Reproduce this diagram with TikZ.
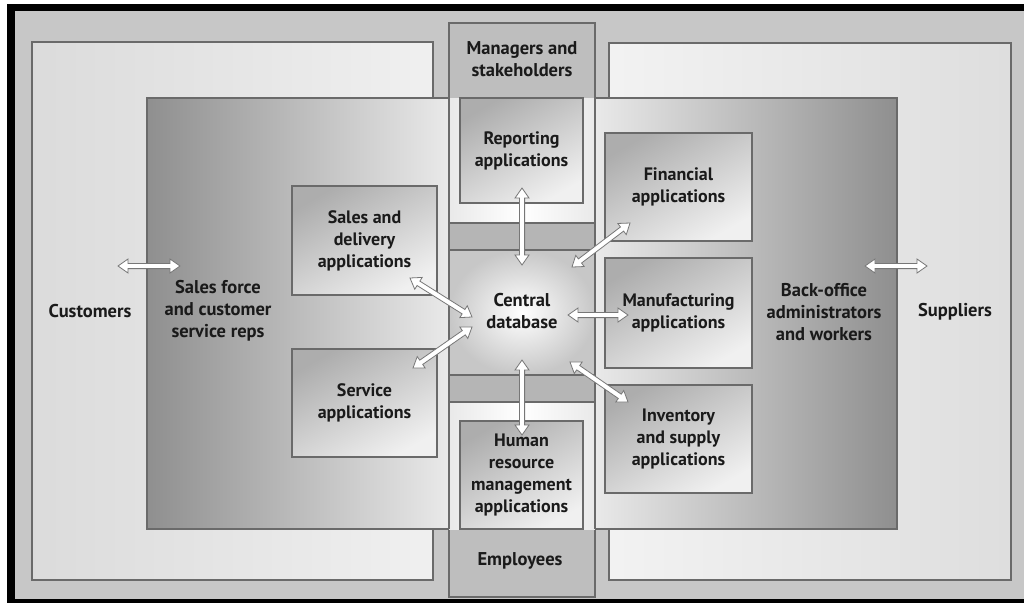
\documentclass[tikz,border=0pt]{standalone}
\usepackage{fontspec}
\setmainfont{PT Sans}
\usetikzlibrary{calc}
\definecolor{bggray}{HTML}{C7C7C7}
\definecolor{edge}{HTML}{6A6A6A}
\definecolor{colgray}{HTML}{BEBEBE}
\definecolor{bandgray}{HTML}{B5B5B5}
\definecolor{txt}{HTML}{1A1A1A}
\definecolor{arrgray}{HTML}{777777}
\tikzset{
  lbl/.style={font=\fontsize{18.5}{22}\selectfont\bfseries, text=txt, align=center, inner sep=0pt},
  edgeline/.style={draw=edge, line width=1.3pt},
  appbox/.style={draw=edge, line width=1.2pt, top color=black!32, bottom color=black!6, shading angle=30,
    font=\fontsize{18}{22}\selectfont\bfseries, text=txt, align=center, inner sep=0pt},
  dblarr/.style={draw=arrgray, fill=white, line width=0.8pt, line join=miter,
    to path={
      -- ($($(\tikztostart)!10pt!(\tikztotarget)$)!7pt!90:(\tikztotarget)$)
      -- ($($(\tikztostart)!10pt!(\tikztotarget)$)!2.6pt!90:(\tikztotarget)$)
      -- ($($(\tikztotarget)!10pt!(\tikztostart)$)!2.6pt!-90:(\tikztostart)$)
      -- ($($(\tikztotarget)!10pt!(\tikztostart)$)!7pt!-90:(\tikztostart)$)
      -- (\tikztotarget)
      -- ($($(\tikztotarget)!10pt!(\tikztostart)$)!7pt!90:(\tikztostart)$)
      -- ($($(\tikztotarget)!10pt!(\tikztostart)$)!2.6pt!90:(\tikztostart)$)
      -- ($($(\tikztostart)!10pt!(\tikztotarget)$)!2.6pt!-90:(\tikztotarget)$)
      -- ($($(\tikztostart)!10pt!(\tikztotarget)$)!7pt!-90:(\tikztotarget)$)
      -- cycle
    }},
}
\begin{document}
\begin{tikzpicture}[x=1pt,y=-1pt]
\useasboundingbox (0,0) rectangle (1024,603);
% frame
\fill[white] (0,0) rectangle (1024,603);
\fill[black] (7,4) rectangle (1024,603);
\fill[bggray] (15,11) rectangle (1024,599);
% customers and suppliers
\path[edgeline, left color=black!14, right color=black!6] (32,42) rectangle (433,580);
\path[edgeline, left color=black!5, right color=black!13] (609,43) rectangle (1011,580);
% middle column
\path[edgeline, fill=colgray] (449,23) rectangle (595,597);
% wide band
\shade[left color=black!44, right color=black!44, middle color=white] (147,98) rectangle (897,529);
\draw[edgeline] (449,98) -- (147,98) -- (147,529) -- (449,529);
\draw[edgeline] (595,98) -- (897,98) -- (897,529) -- (595,529);
% central database area
\shade[inner color=white, outer color=black!22] (449,250) rectangle (595,375);
\path[edgeline, fill=bandgray] (449,223) rectangle (595,250);
\path[edgeline, fill=bandgray] (449,375) rectangle (595,402);
\draw[edgeline] (449,98) -- (449,529);
\draw[edgeline] (595,98) -- (595,529);
% application boxes
\node[appbox, minimum width=123pt, minimum height=105pt] (rep) at (521.5,150.5) {Reporting\\applications};
\node[appbox, minimum width=123pt, minimum height=108pt] (hr) at (521.5,475) {Human\\resource\\management\\applications};
\node[appbox, minimum width=145pt, minimum height=109pt] (sal) at (364.5,240.5) {Sales and\\delivery\\applications};
\node[appbox, minimum width=145pt, minimum height=108pt] (ser) at (364.5,403) {Service\\applications};
\node[appbox, minimum width=147pt, minimum height=108pt] (fin) at (678.5,187) {Financial\\applications};
\node[appbox, minimum width=147pt, minimum height=110pt] (man) at (678.5,313) {Manufacturing\\applications};
\node[appbox, minimum width=147pt, minimum height=108pt] (inv) at (678.5,439) {Inventory\\and supply\\applications};
% labels
\node[lbl] (mgr) at (522,59) {Managers and\\stakeholders};
\node[lbl] (emp) at (520,561) {Employees};
\node[lbl] (cust) at (90,311) {Customers};
\node[lbl] (sf) at (218,311) {Sales force\\and customer\\service reps};
\node[lbl] (bo) at (824,312) {Back-office\\administrators\\and workers};
\node[lbl] (sup) at (955,312) {Suppliers};
\node[lbl] (cdb) at (522,311) {Central\\database};
% arrow end points
\coordinate (a1) at (118,266); \coordinate (a2) at (180,266);
\coordinate (b1) at (865,266); \coordinate (b2) at (927,266);
\coordinate (r1) at (522,188); \coordinate (r2) at (522,265);
\coordinate (h1) at (522,360); \coordinate (h2) at (522,435);
\coordinate (s1) at (410,278); \coordinate (s2) at (472,317);
\coordinate (v1) at (413,368); \coordinate (v2) at (472,327);
\coordinate (f1) at (572,267); \coordinate (f2) at (630,223);
\coordinate (m1) at (568,315); \coordinate (m2) at (628,315);
\coordinate (i1) at (570,362); \coordinate (i2) at (628,402);
\foreach \p/\q in {a1/a2,b1/b2,r1/r2,h1/h2,s1/s2,v1/v2,f1/f2,m1/m2,i1/i2}
  \draw[dblarr] (\p) to (\q);
\end{tikzpicture}
\end{document}
